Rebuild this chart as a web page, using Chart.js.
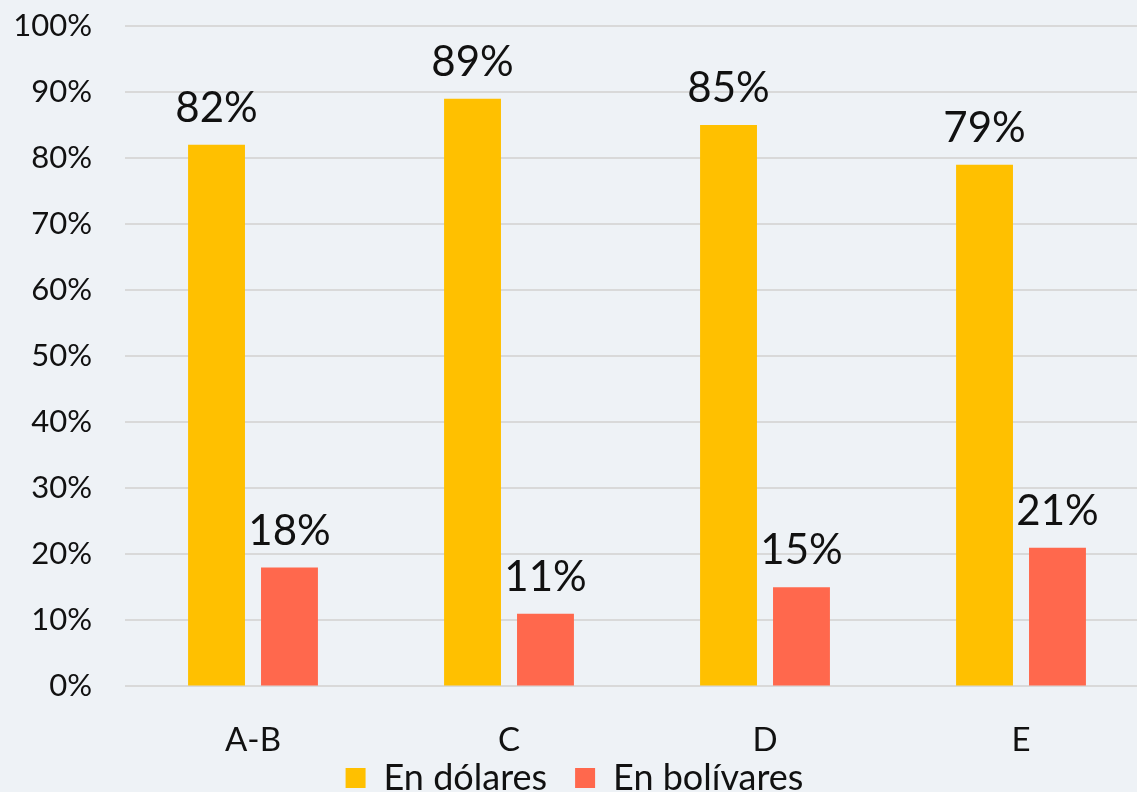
<!DOCTYPE html>
<html lang="es">
<head>
    <meta charset="UTF-8">
    <script src="https://cdn.jsdelivr.net/npm/chart.js@4"></script>
    <title>Chart</title>
    <style>
        html, body { margin: 0; padding: 0; background: #eef2f6; overflow: hidden; }
        #wrap { width: 1160px; height: 868px; }
    </style>
</head>
<body>
    <div id="wrap"><canvas id="c"></canvas></div>

    <script>
        // data
        const categories = ['A-B', 'C', 'D', 'E'];
        const enDolares = [82, 89, 85, 79];
        const enBolivares = [18, 11, 15, 21];
        const yTicks = [0, 10, 20, 30, 40, 50, 60, 70, 80, 90, 100];

        const FONT = 'Lato, "DejaVu Sans", sans-serif';

        // draw value labels over each bar
        const valueLabels = {
            id: 'valueLabels',
            afterDatasetsDraw(chart) {
                const ctx = chart.ctx;
                ctx.save();
                ctx.font = '42px ' + FONT;
                ctx.fillStyle = '#111';
                ctx.textAlign = 'center';
                ctx.textBaseline = 'alphabetic';
                chart.data.datasets.forEach((ds, i) => {
                    chart.getDatasetMeta(i).data.forEach((bar, j) => {
                        ctx.fillText(ds.data[j] + '%', bar.x, bar.y - 23);
                    });
                });
                ctx.restore();
            }
        };

        // pull the legend up closer to the category labels
        const legendNudge = {
            id: 'legendNudge',
            afterLayout(chart) {
                chart.legend.top -= 62;
                chart.legend.bottom -= 62;
            }
        };

        new Chart(document.getElementById('c'), {
            type: 'bar',
            data: {
                labels: categories,
                datasets: [
                    { label: 'En dólares', data: enDolares, backgroundColor: '#ffc000' },
                    { label: 'En bolívares', data: enBolivares, backgroundColor: '#ff684d' }
                ]
            },
            options: {
                responsive: true,
                maintainAspectRatio: false,
                animation: false,
                datasets: { bar: { categoryPercentage: 0.57, barPercentage: 0.78 } },
                layout: { padding: { left: 0, right: 11, top: 26, bottom: 0 } },
                plugins: {
                    tooltip: { enabled: false },
                    legend: {
                        position: 'bottom',
                        labels: {
                            color: '#111',
                            font: { family: FONT, size: 36 },
                            boxWidth: 20,
                            boxHeight: 20,
                            padding: 28
                        }
                    }
                },
                scales: {
                    x: {
                        grid: { display: false, drawTicks: false },
                        border: { display: false },
                        ticks: { color: '#111', font: { family: FONT, size: 33 }, padding: 34 }
                    },
                    y: {
                        min: 0,
                        max: 100,
                        afterBuildTicks(axis) { axis.ticks = yTicks.map(v => ({ value: v })); },
                        afterFit(axis) { axis.width = 125; },
                        grid: { color: '#d9d9d9', lineWidth: 2, drawTicks: true, tickLength: 33, tickColor: 'rgba(0,0,0,0)' },
                        border: { display: false },
                        ticks: {
                            color: '#111',
                            padding: 0,
                            font: { family: FONT, size: 31 },
                            callback: v => v + '%'
                        }
                    }
                }
            },
            plugins: [valueLabels, legendNudge]
        });
    </script>
</body>
</html>
